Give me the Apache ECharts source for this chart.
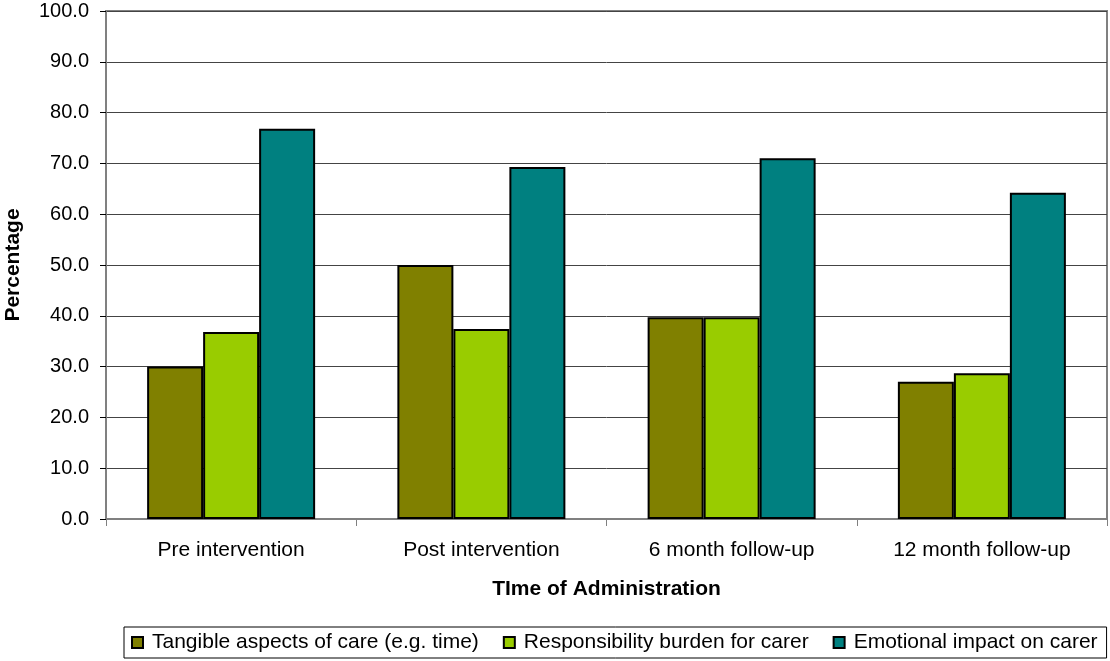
<!DOCTYPE html>
<html>
<head>
<meta charset="utf-8">
<script src="https://cdn.jsdelivr.net/npm/echarts@6/dist/echarts.min.js"></script>
<style>
  html, body { margin: 0; padding: 0; background: #fff; }
  #chart { width: 1110px; height: 661px; }
</style>
</head>
<body>
<div id="chart"></div>
<script>
// Time points at which the questionnaire was administered
const categories = ['Pre intervention', 'Post intervention', '6 month follow-up', '12 month follow-up'];

// Percentage scores per domain
const tangible = [30.0, 50.0, 39.7, 27.0];
const responsibility = [36.8, 37.4, 39.7, 28.7];
const emotional = [76.8, 69.3, 71.0, 64.2];

const seriesNames = [
  'Tangible aspects of care (e.g. time)',
  'Responsibility burden for carer',
  'Emotional impact on carer'
];
const seriesColors = ['#808000', '#99CC00', '#008080'];
const seriesData = [tangible, responsibility, emotional];

const font = 'Liberation Sans, Arial, sans-serif';

const chart = echarts.init(document.getElementById('chart'), null, { renderer: 'canvas' });

chart.setOption({
  animation: false,
  backgroundColor: '#fff',
  textStyle: { fontFamily: font, color: '#000' },
  grid: {
    left: 106, right: 3, top: 11, bottom: 142,
    containLabel: false,
    outerBoundsMode: 'none',
    show: true, borderColor: '#808080', borderWidth: 2, backgroundColor: 'transparent'
  },
  legend: {
    left: 124, top: 627,
    orient: 'horizontal',
    data: seriesNames,
    itemWidth: 11, itemHeight: 11, itemGap: 24,
    padding: [5, 9, 5, 7],
    borderColor: '#000', borderWidth: 1,
    icon: 'rect',
    itemStyle: { borderColor: '#000', borderWidth: 2 },
    textStyle: { fontFamily: font, fontSize: 21, color: '#000', padding: [0, 0, 0, 4] }
  },
  xAxis: {
    type: 'category',
    data: categories,
    name: 'TIme of Administration',
    nameLocation: 'middle',
    nameGap: 60,
    nameTextStyle: { fontFamily: font, fontSize: 21, fontWeight: 'bold', color: '#000' },
    axisLine: { show: true, lineStyle: { color: '#808080', width: 2 } },
    axisTick: { show: true, alignWithLabel: false, length: 7, lineStyle: { color: '#808080', width: 1 } },
    axisLabel: { fontFamily: font, fontSize: 21, color: '#000', margin: 21 },
    splitLine: { show: false }
  },
  yAxis: {
    type: 'value',
    min: 0, max: 100, interval: 10,
    name: 'Percentage',
    nameLocation: 'middle',
    nameGap: 82,
    nameTextStyle: { fontFamily: font, fontSize: 21, fontWeight: 'bold', color: '#000' },
    axisLine: { show: true, lineStyle: { color: '#808080', width: 2 } },
    axisTick: { show: true, inside: false, length: 6, lineStyle: { color: '#000', width: 1 } },
    axisLabel: {
      fontFamily: font, fontSize: 20, color: '#000', margin: 17,
      formatter: v => v.toFixed(1)
    },
    splitLine: { show: true, lineStyle: { color: '#444', width: 1 } }
  },
  series: seriesData.map((d, i) => ({
    name: seriesNames[i],
    type: 'bar',
    data: d,
    barWidth: 56,
    barGap: '0%',
    itemStyle: { color: seriesColors[i], borderColor: '#000', borderWidth: 2 }
  }))
});
</script>
</body>
</html>
